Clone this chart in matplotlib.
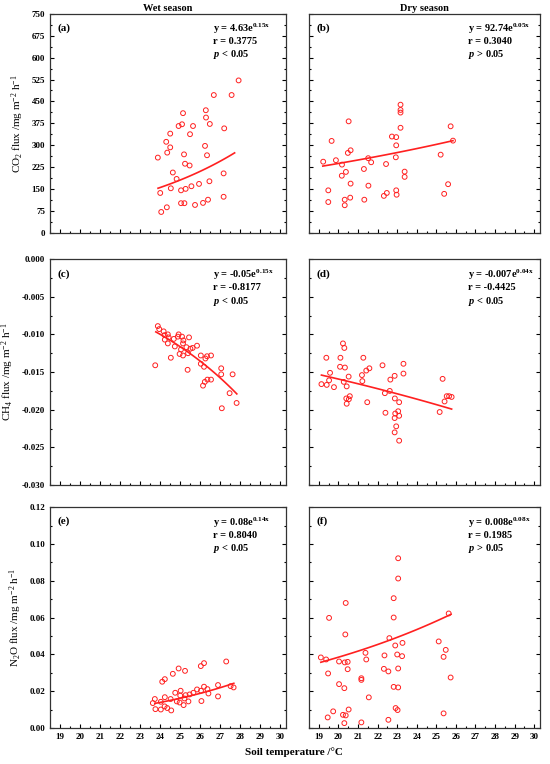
import numpy as np
import matplotlib.pyplot as plt
from matplotlib.ticker import MultipleLocator

plt.rcParams['font.family'] = 'Liberation Serif'
plt.rcParams['mathtext.fontset'] = 'custom'
plt.rcParams['mathtext.it'] = 'Liberation Serif:italic:bold'
plt.rcParams['mathtext.default'] = 'regular'

# (a) CO2, wet season
co2_wet_t = [27.93, 26.69, 27.58, 25.15, 26.29, 26.30, 25.10, 24.93, 25.65, 26.49,
             27.21, 24.51, 25.50, 24.31, 24.51, 24.36, 26.25, 23.89, 25.20, 26.35,
             25.25, 25.48, 24.64, 27.18, 24.83, 26.47, 25.95, 25.57, 24.54, 25.28,
             25.05, 24.01, 27.18, 26.40, 26.15, 25.05, 25.22, 25.75, 24.34, 24.06]
co2_wet_v = [522, 472, 472, 410, 420, 395, 372, 366, 366, 373,
             358, 340, 338, 312, 293, 275, 298, 258, 269, 266,
             237, 231, 207, 204, 185, 177, 168, 160, 153, 151,
             146, 137, 124, 114, 103, 102, 102, 96, 88, 72]
# (b) CO2, dry season
co2_dry_t = [19.22, 19.48, 19.48, 19.65, 19.87, 20.18, 20.17, 20.38, 20.32, 20.32,
             20.52, 20.48, 20.62, 20.62, 20.60, 21.30, 21.32, 21.52, 21.67, 21.53,
             22.32, 22.47, 22.43, 22.73, 22.95, 22.95, 22.93, 22.95, 22.97, 23.17,
             23.17, 23.17, 23.17, 23.38, 23.38, 25.22, 25.40, 25.60, 25.73, 25.85]
co2_dry_v = [244, 146, 106, 315, 249, 234, 196, 209, 114, 95,
             382, 274, 283, 169, 121, 219, 114, 256, 242, 162,
             127, 137, 236, 330, 328, 300, 259, 146, 131, 439,
             421, 412, 360, 210, 192, 268, 134, 167, 365, 316]
# (c) CH4, wet season
ch4_wet_t = [23.89, 23.96, 24.18, 24.23, 24.24, 24.39, 24.43, 24.39, 24.69, 24.74,
             24.93, 25.10, 24.89, 25.17, 25.15, 25.05, 24.98, 25.15, 25.32, 25.45,
             25.40, 25.52, 25.63, 25.85, 24.54, 23.76, 25.38, 26.04, 26.04, 26.20,
             26.27, 26.35, 26.55, 27.06, 27.06, 27.63, 26.15, 26.24, 26.37, 26.55,
             27.48, 27.83, 27.09]
ch4_wet_v = [-0.0089, -0.0093, -0.0096, -0.0101, -0.0107, -0.0100, -0.0104, -0.0112, -0.0106, -0.0116,
             -0.0100, -0.0103, -0.0103, -0.0108, -0.0112, -0.0120, -0.0126, -0.0128, -0.0117, -0.0104,
             -0.0125, -0.0119, -0.0118, -0.0115, -0.0131, -0.0141, -0.0147, -0.0128, -0.0139, -0.0143,
             -0.0132, -0.0129, -0.0128, -0.0145, -0.0153, -0.0153, -0.0168, -0.0163, -0.0160, -0.0160,
             -0.0178, -0.0191, -0.0198]
# (d) CH4, dry season
ch4_dry_t = [19.13, 19.38, 19.40, 19.52, 19.57, 19.77, 20.10, 20.08, 20.23, 20.30,
             20.33, 20.27, 20.42, 20.52, 20.40, 20.58, 20.53, 20.42, 21.27, 21.20,
             21.22, 21.42, 21.58, 21.47, 22.25, 22.37, 22.40, 22.62, 22.65, 22.87,
             23.32, 23.32, 22.88, 23.10, 22.90, 23.05, 23.10, 22.87, 22.95, 22.87,
             23.10, 25.32, 25.17, 25.42, 25.53, 25.65, 25.78]
ch4_dry_v = [-0.0166, -0.0131, -0.0167, -0.0161, -0.0151, -0.0170, -0.0131, -0.0143, -0.0112, -0.0118,
             -0.0144, -0.0163, -0.0169, -0.0156, -0.0185, -0.0182, -0.0186, -0.0192, -0.0131, -0.0154,
             -0.0162, -0.0148, -0.0145, -0.0190, -0.0141, -0.0178, -0.0204, -0.0175, -0.0160, -0.0155,
             -0.0139, -0.0152, -0.0185, -0.0190, -0.0205, -0.0202, -0.0208, -0.0211, -0.0222, -0.0230,
             -0.0241, -0.0159, -0.0203, -0.0189, -0.0182, -0.0182, -0.0183]
# (e) N2O, wet season
n2o_wet_t = [27.31, 26.04, 26.20, 24.93, 25.25, 24.64, 24.24, 24.11, 26.90, 26.20,
             25.85, 26.37, 27.68, 27.53, 25.67, 26.05, 26.42, 25.03, 24.76, 25.01,
             25.28, 25.48, 26.90, 25.22, 25.42, 25.18, 24.98, 24.84, 24.53, 24.24,
             24.04, 23.64, 23.74, 24.23, 23.77, 24.04, 24.36, 24.56, 26.07]
n2o_wet_v = [0.0362, 0.0337, 0.0353, 0.0324, 0.0311, 0.0295, 0.0266, 0.0252, 0.0234, 0.0225,
             0.0210, 0.0212, 0.0221, 0.0228, 0.0192, 0.0203, 0.0188, 0.0203, 0.0192, 0.0177,
             0.0179, 0.0183, 0.0172, 0.0161, 0.0145, 0.0125, 0.0139, 0.0145, 0.0158, 0.0168,
             0.0143, 0.0136, 0.0158, 0.0118, 0.0103, 0.0101, 0.0109, 0.0096, 0.0147]
# (f) N2O, dry season
n2o_dry_t = [23.05, 23.05, 22.82, 20.37, 19.52, 22.82, 25.63, 20.35, 22.60, 23.27,
             25.12, 22.90, 25.48, 21.38, 19.10, 19.37, 22.35, 23.00, 23.25, 25.37,
             21.42, 20.03, 20.32, 20.47, 20.47, 22.32, 22.55, 23.05, 19.47, 21.17,
             21.17, 25.73, 20.03, 20.30, 22.82, 23.05, 21.55, 22.92, 23.02, 20.52,
             19.73, 20.23, 20.37, 19.45, 25.37, 22.55, 20.30, 21.17]
n2o_dry_v = [0.0923, 0.0813, 0.0706, 0.0680, 0.0599, 0.0601, 0.0623, 0.0509, 0.0489, 0.0463,
             0.0471, 0.0449, 0.0425, 0.0409, 0.0384, 0.0373, 0.0395, 0.0400, 0.0391, 0.0387,
             0.0373, 0.0362, 0.0357, 0.0360, 0.0320, 0.0322, 0.0308, 0.0324, 0.0297, 0.0271,
             0.0262, 0.0275, 0.0239, 0.0217, 0.0224, 0.0221, 0.0167, 0.0109, 0.0098, 0.0101,
             0.0091, 0.0072, 0.0069, 0.0058, 0.0080, 0.0045, 0.0027, 0.0031]

# exponential fit lines y = a*exp(b*x), drawn over [x0, x1]
fits = [(4.05, 0.152, 23.9, 27.73), (90.4, 0.0484, 19.2, 25.85),
        (-0.00026, 0.152, 23.79, 27.84), (-0.00736, 0.0386, 19.13, 25.78),
        (0.000372, 0.151, 23.74, 27.69), (0.00743, 0.0823, 19.1, 25.75)]

eq_texts = [['y = 4.63e$^{0.15x}$', 'r = 0.3775', '$\\mathit{p}$ < 0.05'],
            ['y = 92.74e$^{0.05x}$', 'r = 0.3040', '$\\mathit{p}$ > 0.05'],
            ['y = -0.05e$^{0.15x}$', 'r = -0.8177', '$\\mathit{p}$ < 0.05'],
            ['y = -0.007e$^{0.04x}$', 'r = -0.4425', '$\\mathit{p}$ < 0.05'],
            ['y = 0.08e$^{0.14x}$', 'r = 0.8040', '$\\mathit{p}$ < 0.05'],
            ['y = 0.008e$^{0.08x}$', 'r = 0.1985', '$\\mathit{p}$ > 0.05']]
panel_labels = ['(a)', '(b)', '(c)', '(d)', '(e)', '(f)']
ylabels = ['CO$_2$ flux /mg m$^{-2}$ h$^{-1}$',
           'CH$_4$ flux /mg m$^{-2}$ h$^{-1}$',
           'N$_2$O flux /mg m$^{-2}$ h$^{-1}$']

series = [(co2_wet_t, co2_wet_v), (co2_dry_t, co2_dry_v),
          (ch4_wet_t, ch4_wet_v), (ch4_dry_t, ch4_dry_v),
          (n2o_wet_t, n2o_wet_v), (n2o_dry_t, n2o_dry_v)]

ylims = [(0, 750), (-0.030, 0.0), (0, 0.12)]
ymajor = [75, 0.005, 0.02]
yfmt = ['%d', '%.3f', '%.2f']

fig = plt.figure(figsize=(5.5, 7.64), dpi=100)
rows = [(0.695, 0.287), (0.365, 0.296), (0.047, 0.289)]
cols = [(0.091, 0.429), (0.562, 0.42)]

red = '#ff2020'
for i in range(6):
    r, c = divmod(i, 2)
    ax = fig.add_axes([cols[c][0], rows[r][0], cols[c][1], rows[r][1]])
    t, v = series[i]
    ax.scatter(t, v, s=12, facecolors='none', edgecolors=red, linewidths=0.7, zorder=3)
    a, b, x0, x1 = fits[i]
    xx = np.linspace(x0, x1, 50)
    ax.plot(xx, a * np.exp(b * xx), color=red, lw=1.2, zorder=2)

    ax.set_xlim(18.5, 30.3)
    ax.set_ylim(*ylims[r])
    ax.xaxis.set_major_locator(MultipleLocator(1))
    ax.xaxis.set_minor_locator(MultipleLocator(0.5))
    ax.yaxis.set_major_locator(MultipleLocator(ymajor[r]))
    ax.yaxis.set_minor_locator(MultipleLocator(ymajor[r] / 2))
    ax.yaxis.set_major_formatter(plt.FormatStrFormatter(yfmt[r]))
    ax.tick_params(which='both', direction='in', right=True, top=False,
                   labelsize=6.5, width=0.8)
    ax.tick_params(which='major', length=3)
    ax.tick_params(which='minor', length=1.5)
    for lab in ax.get_xticklabels() + ax.get_yticklabels():
        lab.set_fontweight('bold')
    if r < 2:
        ax.set_xticklabels([])
    if c == 1:
        ax.set_yticklabels([])
    else:
        ax.set_ylabel(ylabels[r], fontsize=8, labelpad=4)
    for sp in ax.spines.values():
        sp.set_linewidth(0.9)
        sp.set_color('#333333')

    ax.text(0.03, 0.935, panel_labels[i], transform=ax.transAxes,
            fontsize=8, fontweight='bold', va='center')
    for k, line in enumerate(eq_texts[i]):
        ax.text(0.69, 0.93 - k * 0.058, line, transform=ax.transAxes,
                fontsize=7.5, fontweight='bold', va='center')

fig.text(0.305, 0.989, 'Wet season', ha='center', va='center', fontsize=7.5, fontweight='bold')
fig.text(0.772, 0.989, 'Dry season', ha='center', va='center', fontsize=7.5, fontweight='bold')
fig.text(0.535, 0.015, 'Soil temperature /\u00b0C', ha='center', va='center', fontsize=8, fontweight='bold')

fig.savefig('out.png', dpi=100)
